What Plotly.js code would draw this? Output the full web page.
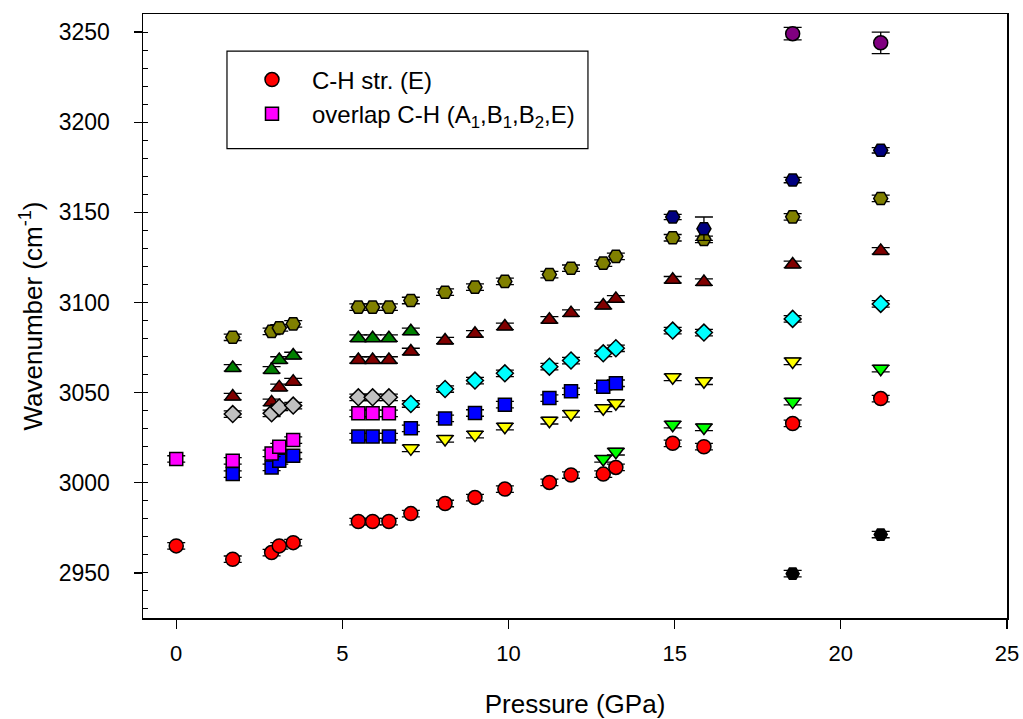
<!DOCTYPE html>
<html>
<head>
<meta charset="utf-8">
<script src="https://cdn.plot.ly/plotly-3.0.1.min.js"></script>
<style>html,body{margin:0;padding:0;background:#fff;}#chart{width:1023px;height:719px;}</style>
</head>
<body>
<div id="chart"></div>
<script>
// ---- data (pressure in GPa, wavenumber in cm-1) ----
const redP = [0, 1.7, 2.87, 3.1, 3.52, 5.48, 5.91, 6.4, 7.06, 8.09, 8.99, 9.89, 11.23, 11.88, 12.85, 13.23, 14.94, 15.88, 18.55, 21.2];
const redW = [2965.0, 2957.6, 2961.3, 2965.0, 2966.8, 2978.5, 2978.5, 2978.5, 2982.9, 2988.5, 2991.8, 2996.5, 3000.2, 3004.3, 3004.8, 3008.5, 3021.9, 3020.0, 3032.9, 3046.7];

const magentaP = [0, 1.7, 2.87, 3.1, 3.52, 5.48, 5.91, 6.4];
const magentaW = [3013.2, 3012.2, 3016.3, 3020.0, 3023.7, 3038.5, 3038.5, 3038.5];

const blueP = [1.7, 2.87, 3.1, 3.52, 5.48, 5.91, 6.4, 7.06, 8.09, 8.99, 9.89, 11.23, 11.88, 12.85, 13.23];
const blueW = [3004.8, 3008.5, 3012.2, 3015.0, 3025.6, 3025.6, 3025.6, 3030.2, 3035.7, 3038.7, 3043.3, 3047.0, 3050.7, 3053.3, 3055.2];

const grayP = [1.7, 2.87, 3.1, 3.52, 5.48, 5.91, 6.4];
const grayW = [3038.1, 3038.5, 3041.8, 3042.8, 3047.4, 3047.4, 3047.4];

const cyanP = [7.06, 8.09, 8.99, 9.89, 11.23, 11.88, 12.85, 13.23, 14.94, 15.88, 18.55, 21.2];
const cyanW = [3043.7, 3052.0, 3056.7, 3060.7, 3064.4, 3067.8, 3071.8, 3074.6, 3084.4, 3083.3, 3090.9, 3099.2];

const yellowP = [7.06, 8.09, 8.99, 9.89, 11.23, 11.88, 12.85, 13.23, 14.94, 15.88, 18.55];
const yellowW = [3019.1, 3024.3, 3026.7, 3031.1, 3034.4, 3038.2, 3041.3, 3044.1, 3058.5, 3056.3, 3067.3];

const greenP = [12.85, 13.23, 14.94, 15.88, 18.55, 21.2];
const greenW = [3013.2, 3017.2, 3032.2, 3030.7, 3045.0, 3063.3];

const darkRedP = [1.7, 2.87, 3.1, 3.52, 5.48, 5.91, 6.4, 7.06, 8.09, 8.99, 9.89, 11.23, 11.88, 12.85, 13.23, 14.94, 15.88, 18.55, 21.2];
const darkRedW = [3047.8, 3044.6, 3052.9, 3056.1, 3068.1, 3068.1, 3068.1, 3072.8, 3078.9, 3082.6, 3086.7, 3090.4, 3094.1, 3098.3, 3102.0, 3112.6, 3111.3, 3121.1, 3128.6];

const darkGreenP = [1.7, 2.87, 3.1, 3.52, 5.48, 5.91, 6.4, 7.06];
const darkGreenW = [3063.7, 3062.6, 3068.1, 3070.6, 3080.2, 3080.2, 3080.2, 3084.0];

const oliveP = [1.7, 2.87, 3.1, 3.52, 5.48, 5.91, 6.4, 7.06, 8.09, 8.99, 9.89, 11.23, 11.88, 12.85, 13.23, 14.94, 15.88, 18.55, 21.2];
const oliveW = [3080.7, 3084.0, 3085.9, 3088.1, 3097.4, 3097.4, 3097.4, 3101.1, 3105.7, 3108.5, 3111.7, 3115.5, 3119.0, 3121.8, 3125.6, 3135.9, 3135.0, 3147.5, 3157.7];

const navyP = [14.94, 15.88, 18.55, 21.2];
const navyW = [3147.4, 3140.9, 3167.9, 3184.4];
const navyErr = [1.5, 6.5, 1.5, 1.5];

const purpleP = [18.55, 21.2];
const purpleW = [3249.1, 3244.0];
const purpleErr = [3.5, 6.0];

const blackP = [18.55, 21.2];
const blackW = [2949.6, 2971.3];

const legendNames = ["C-H str. (E)", "overlap C-H (A<sub>1</sub>,B<sub>1</sub>,B<sub>2</sub>,E)"];
const xTickVals = [0, 5, 10, 15, 20, 25];
const yTickVals = [2950, 3000, 3050, 3100, 3150, 3200, 3250];

// ---- styling ----
const FONT = "Liberation Sans, Arial, sans-serif";
const OUT = {color: "#000000", width: 1.5};
function series(x, y, symbol, color, opts) {
  opts = opts || {};
  return {
    type: "scatter", mode: "markers", x: x, y: y,
    name: opts.name || "", showlegend: !!opts.name,
    legendrank: opts.rank || 1000,
    marker: {symbol: symbol, color: color, size: opts.size || 13, line: OUT},
    error_y: opts.err
      ? {type: "data", array: opts.err, visible: true, color: "#000", thickness: 1.3, width: 9}
      : {type: "constant", value: 1.8, visible: true, color: "#000", thickness: 1.3, width: 9},
    hoverinfo: "x+y"
  };
}

const traces = [
  series(blackP, blackW, "hexagon2", "#000000"),
  series(purpleP, purpleW, "circle", "#800080", {err: purpleErr, size: 14}),
  series(oliveP, oliveW, "hexagon2", "#808000", {size: 14}),
  series(navyP, navyW, "hexagon2", "#000080", {err: navyErr, size: 14}),
  series(darkGreenP, darkGreenW, "triangle-up", "#008000", {size: 14}),
  series(darkRedP, darkRedW, "triangle-up", "#800000", {size: 14}),
  series(grayP, grayW, "diamond", "#c0c0c0", {size: 13}),
  series(cyanP, cyanW, "diamond", "#00ffff", {size: 13}),
  series(yellowP, yellowW, "triangle-down", "#ffff00", {size: 14}),
  series(greenP, greenW, "triangle-down", "#00ff00", {size: 14}),
  series(blueP, blueW, "square", "#0000ff", {size: 13}),
  series(magentaP, magentaW, "square", "#ff00ff", {size: 13, name: legendNames[1], rank: 2}),
  series(redP, redW, "circle", "#ff0000", {size: 14, name: legendNames[0], rank: 1}),
  // carrier for the inner minor-tick axis
  {type: "scatter", mode: "markers", x: [null], y: [null], yaxis: "y2", showlegend: false, hoverinfo: "skip"}
];

const layout = {
  width: 1023, height: 719,
  margin: {l: 143, r: 16, t: 14, b: 101, pad: 0},
  paper_bgcolor: "#ffffff", plot_bgcolor: "#ffffff",
  font: {family: FONT, color: "#000000", size: 22},
  showlegend: true,
  legend: {
    x: 0.103, y: 0.928, xanchor: "left", yanchor: "top",
    bgcolor: "rgba(0,0,0,0)", borderwidth: 0,
    font: {family: FONT, size: 24, color: "#000"},
    itemwidth: 70, tracegroupgap: 0
  },
  shapes: [{
    type: "rect", xref: "paper", yref: "paper",
    x0: 0.0972, x1: 0.515, y0: 0.777, y1: 0.9387,
    line: {color: "#000", width: 1.2}, fillcolor: "rgba(0,0,0,0)", layer: "below"
  }],
  xaxis: {
    range: [-1, 25], tickmode: "array", tickvals: xTickVals,
    ticks: "outside", ticklen: 9, tickwidth: 1.2, tickcolor: "#000",
    showline: true, mirror: true, linecolor: "#000", linewidth: 1.5,
    showgrid: false, zeroline: false,
    tickfont: {family: FONT, size: 22, color: "#000"},
    ticklabelstandoff: 6,
    title: {text: "Pressure (GPa)", font: {family: FONT, size: 26, color: "#000"}, standoff: 34}
  },
  yaxis: {
    range: [2925, 3260], tickmode: "array", tickvals: yTickVals,
    ticks: "outside", ticklen: 8, tickwidth: 1.2, tickcolor: "#000",
    showline: true, mirror: true, linecolor: "#000", linewidth: 1.5,
    showgrid: false, zeroline: false,
    tickfont: {family: FONT, size: 23, color: "#000"},
    ticklabelstandoff: 19,
    title: {text: "Wavenumber (cm<sup>-1</sup>)", font: {family: FONT, size: 26, color: "#000"}, standoff: 8}
  },
  yaxis2: {
    overlaying: "y", side: "left", anchor: "x",
    range: [2925, 3260], tick0: 2930, dtick: 10,
    ticks: "inside", ticklen: 5, tickwidth: 1, tickcolor: "#000",
    showticklabels: false, showline: false, showgrid: false, zeroline: false
  }
};

Plotly.newPlot("chart", traces, layout, {displayModeBar: false, staticPlot: true});
</script>
</body>
</html>
